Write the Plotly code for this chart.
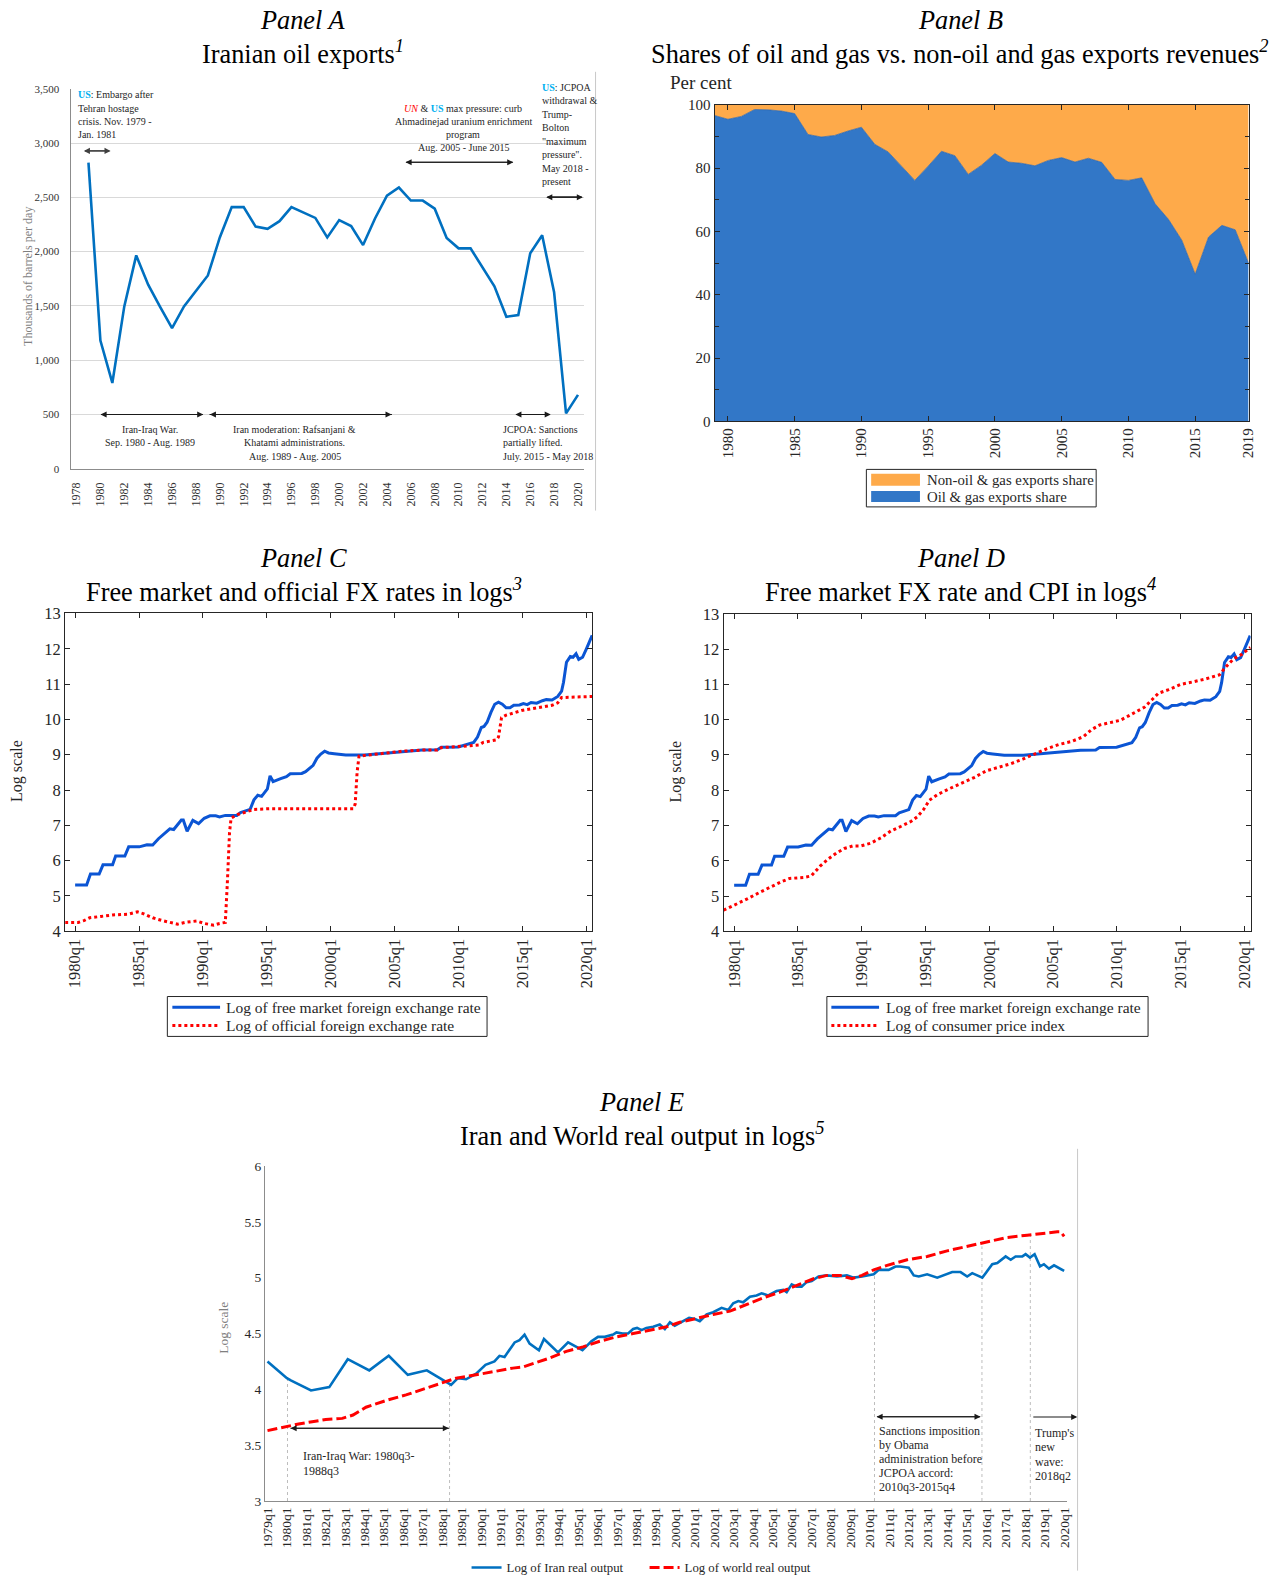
import plotly.graph_objects as go

SERIF = "Liberation Serif"
FW, FH = 1276, 1583

# ---------------- DATA ----------------
# Panel A: Iranian oil exports (thousand barrels per day)
oil_years = list(range(1979, 2021))
oil_exports = [2820, 1180, 790, 1495, 1965, 1695, 1490, 1295, 1495, 1640,
               1780, 2130, 2410, 2410, 2230, 2210, 2280, 2410, 2360, 2310,
               2130, 2290, 2235, 2060, 2305, 2515, 2590, 2470, 2470, 2395,
               2125, 2030, 2030, 1855, 1680, 1400, 1415, 1985, 2150, 1625,
               510, 680]
oil_xticks = list(range(1978, 2021, 2))

# Panel B: shares of exports revenues (per cent)
share_years = list(range(1979, 2020))
oil_share = [96.6, 95.4, 96.3, 98.5, 98.4, 98.0, 97.2, 90.6, 89.8, 90.3,
             91.7, 92.9, 87.5, 85.1, 80.6, 76.1, 80.6, 85.3, 83.9, 78.0,
             80.9, 84.6, 81.9, 81.5, 80.7, 82.4, 83.3, 81.9, 83.1, 81.8,
             76.4, 76.1, 76.9, 68.7, 63.8, 57.2, 46.5, 58.2, 61.9, 60.5,
             50.0]
nonoil_share = [round(100 - v, 1) for v in oil_share]
share_xticks = [1980, 1985, 1990, 1995, 2000, 2005, 2010, 2015, 2019]

# Panels C & D: log free-market FX rate
fx_t = [1980.0, 1980.9, 1981.2, 1981.88, 1982.18, 1982.93, 1983.17, 1983.89, 1984.19, 1985.02,
        1985.62, 1986.07, 1986.52, 1986.97, 1987.41, 1987.71, 1988.01, 1988.31, 1988.46, 1988.76,
        1989.21, 1989.66, 1990.1, 1990.55, 1991.0, 1991.3, 1991.75, 1992.65, 1992.94, 1993.39,
        1993.69, 1993.99, 1994.29, 1994.59, 1995.04, 1995.25, 1995.49, 1996.08, 1996.53, 1996.83,
        1997.73, 1998.03, 1998.33, 1998.62, 1998.92, 1999.22, 1999.52, 1999.82, 2000.27, 2001.17,
        2002.66, 2004.16, 2005.65, 2007.15, 2008.34, 2008.64, 2009.98, 2010.58, 2011.18, 2011.48,
        2011.78, 2011.99, 2012.23, 2012.53, 2012.83, 2013.12, 2013.42, 2013.72, 2014.02, 2014.32,
        2014.77, 2015.07, 2015.37, 2015.67, 2016.11, 2016.56, 2016.86, 2017.31, 2017.76, 2018.06,
        2018.21, 2018.44, 2018.74, 2018.95, 2019.19, 2019.4, 2019.7, 2020.0, 2020.45]
fx_free = [5.31, 5.31, 5.62, 5.62, 5.88, 5.88, 6.13, 6.13, 6.39, 6.39,
           6.45, 6.44, 6.62, 6.76, 6.9, 6.88, 7.0, 7.15, 7.15, 6.83,
           7.14, 7.05, 7.2, 7.27, 7.27, 7.24, 7.28, 7.28, 7.36, 7.42,
           7.45, 7.72, 7.85, 7.82, 8.03, 8.4, 8.24, 8.32, 8.38, 8.46,
           8.47, 8.52, 8.62, 8.7, 8.9, 9.02, 9.1, 9.05, 9.03, 8.99,
           8.99, 9.04, 9.1, 9.13, 9.14, 9.21, 9.22, 9.28, 9.35, 9.5,
           9.77, 9.8, 9.92, 10.2, 10.43, 10.49, 10.43, 10.33, 10.33, 10.4,
           10.41, 10.45, 10.42, 10.48, 10.46, 10.53, 10.56, 10.55, 10.65, 10.8,
           11.05, 11.62, 11.78, 11.76, 11.86, 11.7, 11.76, 12.0, 12.38]

# Panel C: log official FX rate
off_t = [1979.22, 1980.24, 1980.69, 1981.14, 1982.03, 1982.93, 1984.13, 1984.87, 1985.32, 1986.07,
         1986.82, 1987.56, 1988.01, 1988.61, 1989.51, 1990.1, 1990.85, 1991.3, 1991.75, 1991.9,
         1992.08, 1992.2, 1992.65, 1993.39, 1993.99, 1995.19, 2001.76, 2001.91, 2002.06, 2002.21,
         2002.96, 2004.16, 2005.65, 2007.15, 2008.34, 2008.64, 2009.98, 2010.73, 2011.63, 2011.93,
         2012.97, 2013.12, 2013.36, 2013.72, 2014.92, 2016.11, 2017.31, 2017.76, 2018.06, 2020.45]
fx_official = [4.25, 4.25, 4.3, 4.38, 4.42, 4.46, 4.48, 4.55, 4.5, 4.38,
               4.3, 4.25, 4.2, 4.25, 4.29, 4.22, 4.17, 4.22, 4.25, 5.3,
               6.8, 7.2, 7.3, 7.38, 7.45, 7.47, 7.47, 7.6, 8.5, 8.96,
               8.99, 9.04, 9.1, 9.13, 9.13, 9.2, 9.22, 9.25, 9.28, 9.35,
               9.42, 9.5, 10.05, 10.12, 10.25, 10.33, 10.4, 10.47, 10.62, 10.65]

# Panel D: log CPI
cpi_t = [1979.17, 1980.0, 1981.02, 1981.97, 1982.92, 1983.72, 1984.35, 1985.46, 1986.04, 1986.74,
         1987.37, 1988.01, 1988.64, 1989.28, 1989.91, 1990.71, 1991.5, 1992.3, 1993.09, 1993.88,
         1994.36, 1994.84, 1995.31, 1995.95, 1996.9, 1997.86, 1998.81, 1999.76, 2000.71, 2001.67,
         2002.62, 2003.57, 2004.53, 2005.48, 2006.43, 2007.39, 2008.02, 2008.66, 2009.61, 2010.25,
         2010.88, 2011.52, 2012.15, 2012.79, 2013.26, 2014.06, 2015.01, 2015.96, 2016.91, 2018.03,
         2018.51, 2019.14, 2019.78, 2020.48]
cpi = [4.6, 4.74, 4.92, 5.1, 5.28, 5.41, 5.5, 5.53, 5.57, 5.85,
       6.05, 6.22, 6.35, 6.42, 6.42, 6.5, 6.65, 6.85, 6.98, 7.12,
       7.25, 7.45, 7.72, 7.88, 8.05, 8.2, 8.36, 8.55, 8.65, 8.75,
       8.88, 9.03, 9.18, 9.3, 9.38, 9.52, 9.72, 9.85, 9.92, 9.98,
       10.1, 10.22, 10.35, 10.58, 10.75, 10.85, 11.0, 11.07, 11.15, 11.27,
       11.48, 11.72, 11.85, 12.05]
cd_xticks = [1980, 1985, 1990, 1995, 2000, 2005, 2010, 2015, 2020]

# Panel E: log real output
iran_t = [1979.0, 1980.0, 1980.2, 1981.24, 1982.18, 1983.13, 1984.24, 1985.24, 1986.22, 1987.2,
          1988.45, 1988.8, 1989.22, 1989.74, 1990.22, 1990.68, 1990.94, 1991.2, 1991.72, 1991.97,
          1992.23, 1992.49, 1992.97, 1993.23, 1993.95, 1994.47, 1995.21, 1995.67, 1996.01, 1996.36,
          1996.79, 1996.96, 1997.27, 1997.56, 1997.82, 1998.02, 1998.25, 1998.5, 1998.85, 1999.19,
          1999.45, 1999.71, 1999.96, 2000.31, 2000.7, 2001.0, 2001.25, 2001.6, 2001.94, 2002.37,
          2002.71, 2002.97, 2003.23, 2003.48, 2003.83, 2004.17, 2004.43, 2004.77, 2005.2, 2005.55,
          2005.72, 2005.98, 2006.24, 2006.49, 2006.75, 2007.01, 2007.36, 2007.79, 2008.31, 2008.82,
          2009.17, 2009.6, 2009.86, 2010.2, 2010.46, 2010.97, 2011.32, 2011.57, 2012.0, 2012.26,
          2012.52, 2012.95, 2013.47, 2013.81, 2014.24, 2014.67, 2015.01, 2015.27, 2015.79, 2015.96,
          2016.3, 2016.56, 2016.99, 2017.25, 2017.5, 2017.85, 2018.02, 2018.24, 2018.48, 2018.76,
          2018.96, 2019.22, 2019.48, 2020.0]
iran_output = [4.25, 4.10, 4.08, 3.99, 4.02, 4.27, 4.17, 4.30, 4.13, 4.17,
               4.04, 4.10, 4.09, 4.14, 4.22, 4.25, 4.30, 4.29, 4.42, 4.44,
               4.49, 4.41, 4.35, 4.45, 4.33, 4.42, 4.35, 4.43, 4.47, 4.47,
               4.49, 4.51, 4.50, 4.50, 4.54, 4.55, 4.53, 4.55, 4.56, 4.58,
               4.54, 4.60, 4.57, 4.60, 4.64, 4.63, 4.61, 4.67, 4.69, 4.73,
               4.71, 4.77, 4.79, 4.78, 4.83, 4.84, 4.86, 4.84, 4.88, 4.89,
               4.87, 4.94, 4.92, 4.92, 4.96, 4.97, 5.01, 5.02, 5.01, 5.02,
               5.00, 5.01, 5.02, 5.03, 5.07, 5.07, 5.10, 5.10, 5.09, 5.02,
               5.01, 5.03, 5.00, 5.02, 5.05, 5.05, 5.01, 5.04, 5.00, 5.04,
               5.12, 5.13, 5.19, 5.16, 5.19, 5.19, 5.21, 5.18, 5.21, 5.10,
               5.12, 5.08, 5.11, 5.06]
world_t = [1979.0, 1980.03, 1980.6, 1981.3, 1982.0, 1982.85, 1983.4, 1984.07, 1985.1, 1986.13,
           1987.16, 1987.85, 1988.71, 1989.74, 1990.6, 1991.63, 1992.15, 1992.66, 1993.52, 1994.38,
           1995.24, 1996.1, 1996.96, 1997.82, 1998.68, 1999.54, 2000.22, 2000.92, 2001.94, 2002.8,
           2003.66, 2004.52, 2005.37, 2006.24, 2007.1, 2007.79, 2008.48, 2009.08, 2009.6, 2010.2,
           2010.89, 2011.92, 2012.95, 2013.98, 2015.01, 2016.04, 2017.07, 2018.1, 2018.96, 2019.65,
           2019.82, 2020.0]
world_output = [3.63, 3.67, 3.69, 3.71, 3.73, 3.74, 3.77, 3.84, 3.90, 3.95,
                4.01, 4.05, 4.10, 4.13, 4.16, 4.19, 4.20, 4.23, 4.28, 4.34,
                4.38, 4.43, 4.47, 4.50, 4.53, 4.56, 4.60, 4.63, 4.67, 4.70,
                4.76, 4.82, 4.87, 4.93, 4.99, 5.02, 5.02, 4.99, 5.02, 5.07,
                5.11, 5.16, 5.19, 5.24, 5.28, 5.32, 5.36, 5.38, 5.40, 5.41,
                5.41, 5.37]
e_xticks = list(range(1979, 2021))
e_event_x = [1980.03, 1988.37, 2010.24, 2015.77, 2018.26]
e_event_top = [4.09, 4.04, 5.08, 5.28, 5.40]


# ---------------- HELPERS (target pixel -> paper) ----------------
def PX(p):
    return 1.0103 * p - 4.49


def PY(p):
    return 1.01257 * p - 9.13


def X(px):
    return PX(px) / FW


def Y(py):
    return 1 - PY(py) / FH


BLUE_FX = "#0B55D4"
RED = "#FF0000"
DARK = "#262626"
ORANGE = "#FEAA4A"
BLUE_AREA = "#3277C7"
CD = 1.5      # small vertical shift for panels C & D
EE = 3.0      # small vertical shift for panel E

fig = go.Figure()

# Panel A
fig.add_trace(go.Scatter(x=oil_years, y=oil_exports, xaxis="x", yaxis="y", mode="lines",
                         line=dict(color="#0070C0", width=2.6), showlegend=False))

# Panel B
fig.add_trace(go.Scatter(x=share_years, y=oil_share, xaxis="x2", yaxis="y2", mode="lines",
                         stackgroup="b", line=dict(color="#2A63AB", width=0.7),
                         fillcolor=BLUE_AREA, name="Oil & gas exports share", showlegend=False))
fig.add_trace(go.Scatter(x=share_years, y=nonoil_share, xaxis="x2", yaxis="y2", mode="lines",
                         stackgroup="b", line=dict(color=ORANGE, width=0),
                         fillcolor=ORANGE, name="Non-oil & gas exports share", showlegend=False))

# Panel C
fig.add_trace(go.Scatter(x=fx_t, y=fx_free, xaxis="x3", yaxis="y3", mode="lines",
                         line=dict(color=BLUE_FX, width=3),
                         name="Log of free market foreign exchange rate", showlegend=False))
fig.add_trace(go.Scatter(x=off_t, y=fx_official, xaxis="x3", yaxis="y3", mode="lines",
                         line=dict(color=RED, width=3, dash="dot"),
                         name="Log of official foreign exchange rate", showlegend=False))

# Panel D
fig.add_trace(go.Scatter(x=fx_t, y=fx_free, xaxis="x4", yaxis="y4", mode="lines",
                         line=dict(color=BLUE_FX, width=3),
                         name="Log of free market foreign exchange rate", showlegend=False))
fig.add_trace(go.Scatter(x=cpi_t, y=cpi, xaxis="x4", yaxis="y4", mode="lines",
                         line=dict(color=RED, width=3, dash="dot"),
                         name="Log of consumer price index", showlegend=False))

# Panel E
fig.add_trace(go.Scatter(x=iran_t, y=iran_output, xaxis="x5", yaxis="y5", mode="lines",
                         line=dict(color="#0070C0", width=2.6),
                         name="Log of Iran real output", legendrank=1))
fig.add_trace(go.Scatter(x=world_t, y=world_output, xaxis="x5", yaxis="y5", mode="lines",
                         line=dict(color=RED, width=3, dash="10px,4px"),
                         name="Log of world real output", legendrank=2))


# ---------------- AXES ----------------
def mat(size):
    return dict(showline=True, linecolor=DARK, linewidth=1, mirror="ticks", ticks="inside",
                ticklen=5, tickcolor=DARK, showgrid=False, zeroline=False,
                tickfont=dict(size=size, color=DARK, family=SERIF))


layout_axes = dict(
    xaxis=dict(domain=[X(70), X(583.4)], range=[1977.5, 2020.5], anchor="y",
               tickmode="array", tickvals=oil_xticks, tickangle=-90, ticklabelstandoff=8,
               showline=True, linecolor="#8C8C8C", ticks="", showgrid=False, zeroline=False,
               tickfont=dict(size=12, color="#333333", family=SERIF)),
    yaxis=dict(domain=[Y(470), Y(89)], range=[0, 3500], anchor="x", dtick=500, tickformat=",",
               showgrid=True, gridcolor="#D9D9D9", gridwidth=1.3, showline=True,
               linecolor="#8C8C8C", zeroline=False, ticks="", ticklabelstandoff=8,
               tickfont=dict(size=11, color="#333333", family=SERIF)),
    xaxis2=dict(domain=[X(714), X(1248)], range=[1979, 2019], anchor="y2",
                tickmode="array", tickvals=share_xticks, tickangle=-90, **mat(15)),
    yaxis2=dict(domain=[Y(422.5), Y(105)], range=[0, 100], anchor="x2", dtick=20,
                minor=dict(dtick=10, ticks="inside", ticklen=4, tickcolor=DARK), **mat(15)),
    xaxis3=dict(domain=[X(64.6), X(591.6)], range=[1979.22, 2020.45], anchor="y3",
                tickmode="array", tickvals=cd_xticks, ticktext=[f"{v}q1" for v in cd_xticks],
                tickangle=-90, **mat(16.5)),
    yaxis3=dict(domain=[Y(933.8), Y(613.7 + CD)], range=[4, 13], anchor="x3", dtick=1, **mat(16.5)),
    xaxis4=dict(domain=[X(723), X(1250)], range=[1979.17, 2020.48], anchor="y4",
                tickmode="array", tickvals=cd_xticks, ticktext=[f"{v}q1" for v in cd_xticks],
                tickangle=-90, **mat(16.5)),
    yaxis4=dict(domain=[Y(934), Y(614 + CD)], range=[4, 13], anchor="x4", dtick=1, **mat(16.5)),
    xaxis5=dict(domain=[X(264.5), X(1066)], range=[1978.875, 2020.125], anchor="y5",
                tickmode="array", tickvals=e_xticks, ticktext=[f"{v}q1" for v in e_xticks],
                tickangle=-90, showline=True, linecolor="#8C8C8C", ticks="", showgrid=False,
                zeroline=False, tickfont=dict(size=13.5, color=DARK, family=SERIF)),
    yaxis5=dict(domain=[Y(1501.7 + 3.5), Y(1166.7 + 2.5)], range=[3, 6], anchor="x5", dtick=0.5,
                showline=True, linecolor="#8C8C8C", ticks="", showgrid=False, zeroline=False,
                tickfont=dict(size=13.5, color=DARK, family=SERIF)),
)

# ---------------- ANNOTATIONS ----------------
annotations = []
shapes = []


def txt(x, y, s, size, anchor="center", color=DARK, angle=0):
    annotations.append(dict(xref="paper", yref="paper", x=X(x), y=Y(y), text=s, showarrow=False,
                            xanchor=anchor, yanchor="middle", textangle=angle,
                            font=dict(family=SERIF, size=size, color=color)))


def lines(x, y0, dy, items, size, anchor):
    for i, s in enumerate(items):
        txt(x, y0 + i * dy, s, size, anchor)


def arrow(xtip, y, xtail, color="#1A1A1A"):
    annotations.append(dict(xref="paper", yref="paper", x=X(xtip), y=Y(y),
                            ax=PX(xtail) - PX(xtip), ay=0,
                            axref="pixel", ayref="pixel", showarrow=True, arrowhead=2,
                            arrowsize=1.1, arrowwidth=1.1, arrowcolor=color, text=""))


def darrow(x0, x1, y, color="#1A1A1A"):
    arrow(x0, y, x1, color)
    arrow(x1, y, x0, color)


def box(x0, y0, x1, y1, line_color=DARK, fill="white"):
    shapes.append(dict(type="rect", xref="paper", yref="paper", x0=X(x0), x1=X(x1),
                       y0=Y(y1), y1=Y(y0), line=dict(color=line_color, width=1), fillcolor=fill))


def seg(x0, x1, y, color, width, dash="solid"):
    shapes.append(dict(type="line", xref="paper", yref="paper", x0=X(x0), x1=X(x1),
                       y0=Y(y), y1=Y(y), line=dict(color=color, width=width, dash=dash)))


US = "<b><span style='color:#00B0F0'>US</span></b>"
UN = "<i><span style='color:#FF0000'>UN</span></i>"

# Titles
for cx, y1, y2, p, t in [
    (302, 20.2, 52.5, "Panel A", "Iranian oil exports<sup><i>1</i></sup>"),
    (959.5, 20.2, 52.5, "Panel B", "Shares of oil and gas vs. non-oil and gas exports revenues<sup><i>2</i></sup>"),
    (303, 560, 592.6, "Panel C", "Free market and official FX rates in logs<sup><i>3</i></sup>"),
    (960, 560, 592.6, "Panel D", "Free market FX rate and CPI in logs<sup><i>4</i></sup>"),
    (641, 1102.4 + EE, 1134.7 + EE, "Panel E", "Iran and World real output in logs<sup><i>5</i></sup>"),
]:
    txt(cx, y1, f"<i>{p}</i>", 26.3, "center", "#000000")
    txt(cx, y2, t, 26.3, "center", "#000000")

# Panel A texts
FA = 10
lines(75, 95, 13.3, [f"{US}: Embargo after", "Tehran hostage", "crisis. Nov. 1979 -", "Jan. 1981"], FA, "left")
lines(462.7, 108.3, 13.3, [f"{UN} & {US} max pressure: curb", "Ahmadinejad uranium enrichment",
                           "program", "Aug. 2005 - June 2015"], FA, "center")
lines(539.3, 87.7, 13.5, [f"{US}: JCPOA", "withdrawal &", "Trump-", "Bolton", "\"maximum",
                          "pressure\".", "May 2018 -", "present"], FA, "left")
lines(149.5, 430.7, 13.3, ["Iran-Iraq War.", "Sep. 1980 - Aug. 1989"], FA, "center")
lines(294, 430.7, 13.3, ["Iran moderation: Rafsanjani &", "Khatami administrations.",
                         "Aug. 1989 - Aug. 2005"], FA, "center")
lines(500, 430.7, 13.3, ["JCPOA: Sanctions", "partially lifted.", "July. 2015 - May 2018"], FA, "left")
darrow(83.3, 110, 151.3, "#404040")
darrow(100, 202.7, 415.7)
darrow(209.3, 391, 415.7)
darrow(514.8, 550.2, 415.7)
darrow(405, 512.7, 162.7)
darrow(545.7, 582.3, 197.7)
txt(27.5, 277.6, "Thousands of barrels per day", 12, "center", "#7F7F7F", -90)

# Panel B
txt(700, 82.7, "Per cent", 19, "center", DARK)
box(865.8, 470.7, 1095.6, 508.3)
shapes.append(dict(type="rect", xref="paper", yref="paper", x0=X(870.6), x1=X(919.4),
                   y0=Y(487), y1=Y(475), line=dict(width=0), fillcolor=ORANGE))
shapes.append(dict(type="rect", xref="paper", yref="paper", x0=X(870.6), x1=X(919.4),
                   y0=Y(503.5), y1=Y(492.3), line=dict(width=0), fillcolor=BLUE_AREA))
txt(924.5, 481, "Non-oil & gas exports share", 14.8, "left")
txt(924.5, 498, "Oil & gas exports share", 14.8, "left")

# Panels C, D y titles + legends
txt(17, 772 + CD, "Log scale", 16, "center", DARK, -90)
txt(675.7, 772 + CD, "Log scale", 16, "center", DARK, -90)
for bx0, bx1, sx0, sx1, tx, second in [
    (166.8, 486.5, 171.8, 219.5, 223.3, "Log of official foreign exchange rate"),
    (826.3, 1147.5, 830.8, 878.5, 883.4, "Log of consumer price index"),
]:
    box(bx0, 999.3, bx1, 1039.3)
    seg(sx0, sx1, 1010, BLUE_FX, 3)
    seg(sx0, sx1, 1028.3, RED, 3, "dot")
    txt(tx, 1010, "Log of free market foreign exchange rate", 15.5, "left")
    txt(tx, 1028.3, second, 15.5, "left")

# Panel E texts
FE = 12
txt(223, 1329 + EE, "Log scale", 13.5, "center", "#7F7F7F", -90)
lines(300, 1456.7 + EE, 15, ["Iran-Iraq War: 1980q3-", "1988q3"], FE, "left")
lines(876, 1431.7 + EE, 14.15, ["Sanctions imposition", "by Obama", "administration before",
                                "JCPOA accord:", "2010q3-2015q4"], FE, "left")
lines(1032.3, 1434 + EE, 14.3, ["Trump's", "new", "wave:", "2018q2"], FE, "left")
darrow(290, 448.3, 1429.3 + EE)
darrow(876, 980, 1417.7 + EE)
arrow(1076.7, 1418 + EE, 1031.7)

# ---------------- SHAPES ----------------
shapes += [
    dict(type="line", xref="paper", yref="paper", x0=X(595), x1=X(595), y0=Y(512), y1=Y(72),
         line=dict(color="#C8C8C8", width=1)),
    dict(type="line", xref="paper", yref="paper", x0=X(1077), x1=X(1077), y0=Y(1575), y1=Y(1152),
         line=dict(color="#C8C8C8", width=1)),
]
for ex, et in zip(e_event_x, e_event_top):
    shapes.append(dict(type="line", xref="x5", yref="y5", x0=ex, x1=ex, y0=3, y1=et, layer="below",
                       line=dict(color="#BDBDBD", width=1, dash="dot")))

fig.update_layout(
    width=FW, height=FH, autosize=False,
    margin=dict(l=0, r=0, t=0, b=0),
    paper_bgcolor="white", plot_bgcolor="white",
    font=dict(family=SERIF, color=DARK),
    hovermode=False,
    showlegend=True,
    legend=dict(x=X(466), y=Y(1557), xanchor="left", yanchor="top", orientation="h",
                bgcolor="rgba(0,0,0,0)", font=dict(family=SERIF, size=12.8, color=DARK),
                entrywidth=133, entrywidthmode="pixels", traceorder="normal"),
    annotations=annotations,
    shapes=shapes,
    **layout_axes,
)

fig.write_html(
    "out.html",
    config={"displayModeBar": False},
    post_script="document.documentElement.style.margin='0';document.body.style.margin='0';"
                "document.documentElement.style.overflow='hidden';document.body.style.overflow='hidden';",
)
